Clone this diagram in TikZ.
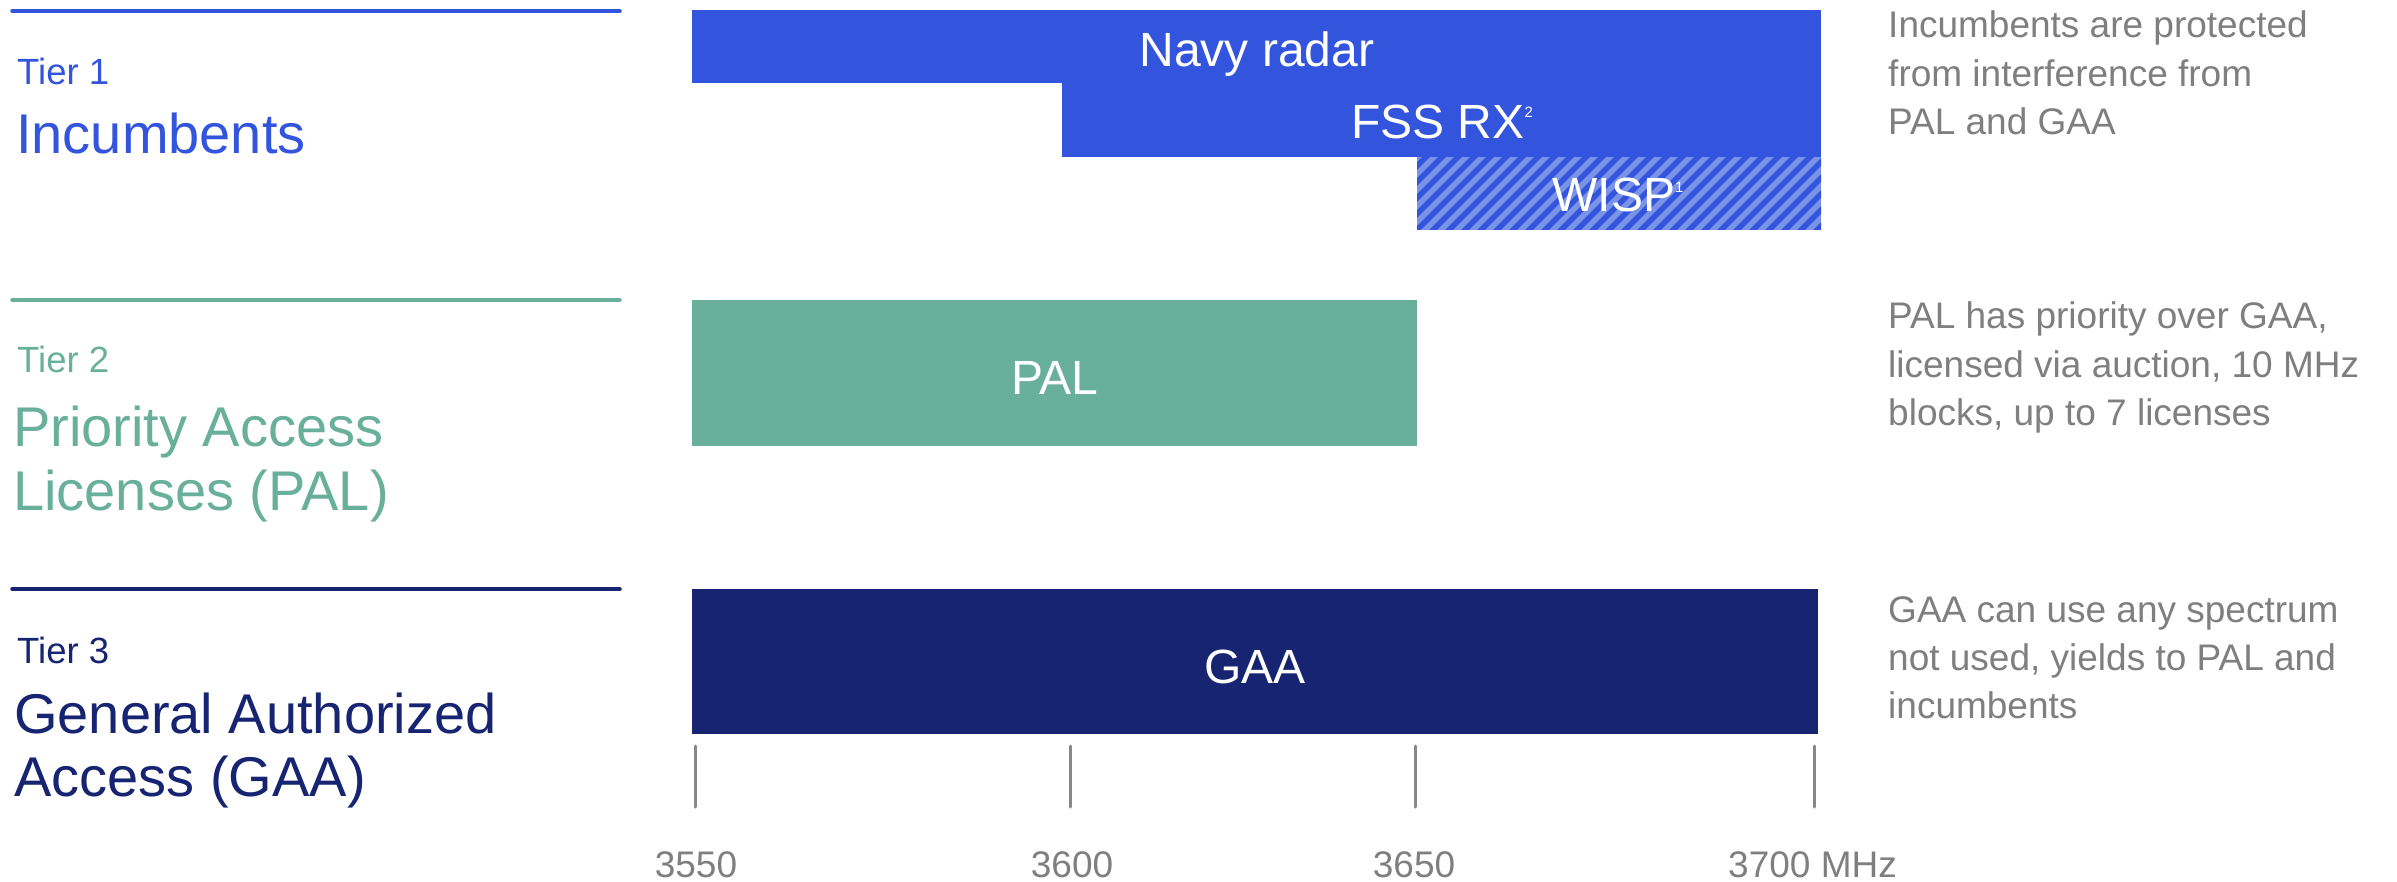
\documentclass[tikz,border=0pt]{standalone}
\usepackage{fontspec}
\setmainfont{Liberation Sans}
\definecolor{tierA}{HTML}{3355DD}
\definecolor{tierB}{HTML}{69B09A}
\definecolor{tierC}{HTML}{162471}
\definecolor{hatchlight}{HTML}{7B93E6}
\definecolor{txtgray}{HTML}{7F7F7F}
\definecolor{tickgray}{HTML}{888888}
\tikzset{
  tierline/.style={line width=3.5pt, line cap=round},
  tiersmall/.style={anchor=base west, inner sep=0pt, font=\fontsize{36.5}{40}\selectfont},
  tierbig/.style={anchor=base west, inner sep=0pt, font=\fontsize{56}{63}\selectfont},
  barbox/.style={anchor=north west, inner sep=0pt, outer sep=0pt, draw=none},
  barlabel/.style={anchor=base, inner sep=0pt, text=white, font=\fontsize{48}{52}\selectfont},
  note/.style={anchor=base west, inner sep=0pt, text=txtgray, font=\fontsize{37}{40}\selectfont},
  ticklabel/.style={inner sep=0pt, text=txtgray, font=\fontsize{37}{40}\selectfont},
  tickmark/.style={draw=tickgray, line width=3pt, line cap=round}
}
\begin{document}
\begin{tikzpicture}[x=1pt,y=-1pt]
\useasboundingbox[fill=white] (0,0) rectangle (2397,882);

% tier separator lines
\coordinate (l1a) at (12,11); \coordinate (l1b) at (620,11);
\coordinate (l2a) at (12,300); \coordinate (l2b) at (620,300);
\coordinate (l3a) at (12,589); \coordinate (l3b) at (620,589);
\draw[tierline, tierA] (l1a) -- (l1b);
\draw[tierline, tierB] (l2a) -- (l2b);
\draw[tierline, tierC] (l3a) -- (l3b);

% left labels
\node[tiersmall, text=tierA] (t1) at (17,85) {Tier 1};
\node[tierbig, text=tierA] (t1n) at (16,154) {Incumbents};
\node[tiersmall, text=tierB] (t2) at (17,372) {Tier 2};
\node[tierbig, text=tierB] (t2n) at (13,446) {Priority Access};
\node[tierbig, text=tierB] (t2m) at (13,510) {Licenses (PAL)};
\node[tiersmall, text=tierC] (t3) at (17,663) {Tier 3};
\node[tierbig, text=tierC] (t3n) at (14,733) {General Authorized};
\node[tierbig, text=tierC] (t3m) at (14,796) {Access (GAA)};

% bars
\node[barbox, fill=tierA, minimum width=1129pt, minimum height=72.5pt] (navy) at (692,10.5) {};
\node[barbox, fill=tierA, minimum width=759pt, minimum height=74pt] (fss) at (1062,83) {};
\node[barbox, fill=hatchlight, minimum width=404pt, minimum height=73pt] (wisp) at (1417,157) {};
\begin{scope}
  \clip (1417,157) rectangle (1821,230);
  \foreach \i in {0,...,32}
    \draw[tierA, line width=5.5pt] ({1417-90+\i*16},240) -- ++(90,-90);
\end{scope}
\node[barbox, fill=tierB, minimum width=725pt, minimum height=146pt] (pal) at (692,300) {};
\node[barbox, fill=tierC, minimum width=1126pt, minimum height=145.5pt] (gaa) at (692,588.5) {};

% bar labels
\node[barlabel] (navyl) at (1257,67) {Navy radar};
\node[barlabel] (fssl) at (1442,139) {FSS RX\raisebox{21pt}{\fontsize{15}{15}\selectfont 2}};
\node[barlabel] (wispl) at (1618,212) {WISP\raisebox{19pt}{\fontsize{15}{15}\selectfont 1}};
\node[barlabel] (pall) at (1055,394) {PAL};
\node[barlabel] (gaal) at (1255,683) {GAA};

% right notes
\node[note] (n1a) at (1888,38) {Incumbents are protected};
\node[note] (n1b) at (1888,87) {from interference from};
\node[note] (n1c) at (1888,135) {PAL and GAA};
\node[note] (n2a) at (1888,328) {PAL has priority over GAA,};
\node[note] (n2b) at (1888,377) {licensed via auction, 10 MHz};
\node[note] (n2c) at (1888,425) {blocks, up to 7 licenses};
\node[note] (n3a) at (1888,622) {GAA can use any spectrum};
\node[note] (n3b) at (1888,670) {not used, yields to PAL and};
\node[note] (n3c) at (1888,718) {incumbents};

% axis ticks
\coordinate (k1a) at (695,746); \coordinate (k1b) at (695,807);
\coordinate (k2a) at (1070,746); \coordinate (k2b) at (1070,807);
\coordinate (k3a) at (1415,746); \coordinate (k3b) at (1415,807);
\coordinate (k4a) at (1814,746); \coordinate (k4b) at (1814,807);
\draw[tickmark] (k1a) -- (k1b);
\draw[tickmark] (k2a) -- (k2b);
\draw[tickmark] (k3a) -- (k3b);
\draw[tickmark] (k4a) -- (k4b);
\node[ticklabel, anchor=base] (f1) at (696,877) {3550};
\node[ticklabel, anchor=base] (f2) at (1072,877) {3600};
\node[ticklabel, anchor=base] (f3) at (1414,877) {3650};
\node[ticklabel, anchor=base west] (f4) at (1728,877) {3700 MHz};
\end{tikzpicture}
\end{document}
